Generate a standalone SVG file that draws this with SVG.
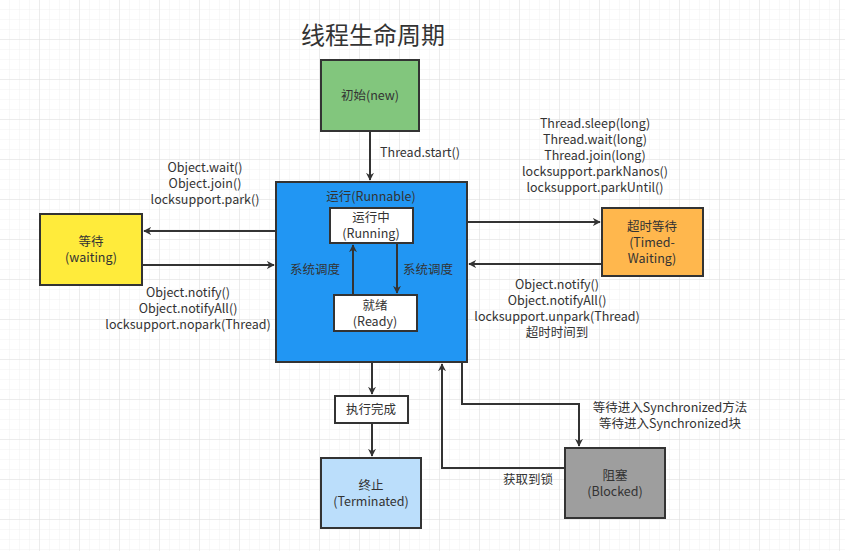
<svg xmlns="http://www.w3.org/2000/svg" width="845" height="551" viewBox="0 0 845 551">
<defs>
<pattern id="g" width="10" height="10" patternUnits="userSpaceOnUse"><path d="M10 0V10H0" fill="none" stroke="#f0f0f0" stroke-width="1"/></pattern>
<pattern id="G" width="40" height="40" patternUnits="userSpaceOnUse"><rect width="40" height="40" fill="url(#g)"/><path d="M40 0V40H0" fill="none" stroke="#e0e0e0" stroke-width="1"/></pattern>
<marker id="a" viewBox="0 0 10 10" refX="9" refY="5" markerWidth="8" markerHeight="8" markerUnits="userSpaceOnUse" orient="auto"><path d="M0 0L10 5L0 10L3 5Z" fill="#333"/></marker>
</defs>
<style>
text{font-family:"Noto Sans CJK SC","Noto Sans",sans-serif;font-size:12.5px;fill:#333;text-anchor:middle}
.b{stroke:#333;stroke-width:2}
.c{fill:none;stroke:#333;stroke-width:2;marker-end:url(#a)}
</style>
<rect width="845" height="551" fill="#fff"/>
<rect width="845" height="551" fill="url(#G)"/>
<text x="373" y="44" style="font-size:24px">线程生命周期</text>
<g id="new"><rect class="b" x="321" y="60" width="98" height="71" fill="#82c67d"/><text x="370" y="100">初始(new)</text></g>
<g id="runnable"><rect class="b" x="276" y="182" width="191" height="180" fill="#2196f3"/><text x="371" y="201">运行(Runnable)</text></g>
<g id="running"><rect class="b" x="330" y="208" width="83" height="35" fill="#fff"/><text x="371" y="222">运行中</text><text x="371" y="238">(Running)</text></g>
<g id="ready"><rect class="b" x="334" y="295" width="83" height="36" fill="#fff"/><text x="375" y="310">就绪</text><text x="375" y="326">(Ready)</text></g>
<g id="waiting"><rect class="b" x="40" y="214" width="102" height="71" fill="#ffeb3b"/><text x="91" y="246">等待</text><text x="91" y="262">(waiting)</text></g>
<g id="timed"><rect class="b" x="602" y="208" width="101" height="68" fill="#ffb74d"/><text x="652" y="231">超时等待</text><text x="652" y="247">(Timed-</text><text x="652" y="263">Waiting)</text></g>
<g id="done"><rect class="b" x="335" y="396" width="73" height="27" fill="#fff"/><text x="371" y="414">执行完成</text></g>
<g id="terminated"><rect class="b" x="321" y="458" width="100" height="70" fill="#bbdefb"/><text x="371" y="490">终止</text><text x="371" y="506">(Terminated)</text></g>
<g id="blocked"><rect class="b" x="565" y="448" width="100" height="70" fill="#9e9e9e"/><text x="615" y="480">阻塞</text><text x="615" y="496">(Blocked)</text></g>
<g id="connectors">
<path class="c" d="M370 131V180"/>
<path class="c" d="M353 295V245"/>
<path class="c" d="M397 243V293"/>
<path class="c" d="M276 231H144"/>
<path class="c" d="M142 265H274"/>
<path class="c" d="M467 222H600"/>
<path class="c" d="M602 264H469"/>
<path class="c" d="M372 362V394"/>
<path class="c" d="M372 423V456"/>
<path class="c" d="M462 362V404H579V446"/>
<path class="c" d="M565 468H442V364"/>
<text x="420" y="157">Thread.start()</text>
<text x="315" y="274">系统调度</text>
<text x="428" y="274">系统调度</text>
<text x="205" y="172">Object.wait()</text>
<text x="205" y="188">Object.join()</text>
<text x="205" y="204">locksupport.park()</text>
<text x="188" y="297">Object.notify()</text>
<text x="188" y="313">Object.notifyAll()</text>
<text x="188" y="329">locksupport.nopark(Thread)</text>
<text x="595" y="128">Thread.sleep(long)</text>
<text x="595" y="144">Thread.wait(long)</text>
<text x="595" y="160">Thread.join(long)</text>
<text x="595" y="176">locksupport.parkNanos()</text>
<text x="595" y="192">locksupport.parkUntil()</text>
<text x="557" y="289">Object.notify()</text>
<text x="557" y="305">Object.notifyAll()</text>
<text x="557" y="321">locksupport.unpark(Thread)</text>
<text x="557" y="337">超时时间到</text>
<text x="670" y="412">等待进入Synchronized方法</text>
<text x="670" y="428">等待进入Synchronized块</text>
<text x="528" y="484">获取到锁</text>
</g>
</svg>
